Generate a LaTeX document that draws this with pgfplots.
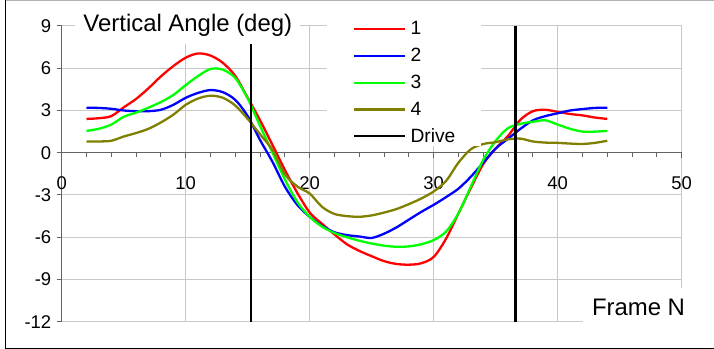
\documentclass[border=0pt]{standalone}
\usepackage{pgfplots}
\pgfplotsset{compat=1.18}
\usepackage{fontspec}
\setmainfont{Liberation Sans}

\definecolor{olivefour}{RGB}{128,128,0}
\definecolor{gridgray}{RGB}{200,200,200}
\definecolor{axisgray}{RGB}{100,100,100}

\begin{document}
\begin{tikzpicture}
\useasboundingbox (0bp,0bp) rectangle (714bp,349bp);
% chart area border
\draw[gray!60, line width=1bp] (5.3bp,348.5bp) -- (716bp,348.5bp);
\draw[black, line width=1.3bp] (5.3bp,349bp) -- (5.3bp,0.7bp) -- (716bp,0.7bp);

\begin{axis}[
  at={(61.7bp,27.3bp)}, anchor=south west,
  scale only axis, width=620bp, height=295.7bp,
  xmin=0, xmax=50, ymin=-12, ymax=9,
  axis x line=middle, axis y line=left,
  axis line style={-, axisgray, line width=1.3bp},
  xtick={0,10,...,50}, xticklabels={0,10,20,30,40,50},
  minor xtick={2,4,...,48},
  ytick={-12,-9,...,9}, yticklabels={-12,-9,-6,-3,0,3,6,9},
  hide obscured x ticks=false, hide obscured y ticks=false,
  grid=major, major grid style={gridgray, line width=1bp},
  tick style={axisgray, line width=1bp},
  major tick length=5bp, minor tick length=4bp,
  tick align=outside,
  ticklabel style={font=\fontsize{18.5}{20}\selectfont},
  xticklabel style={yshift=-15bp},
  yticklabel style={xshift=-2bp},
  title={Vertical Angle (deg)},
  title style={at={(0.0214,0.9619)}, anchor=base west, fill=white,
    inner xsep=8.3bp, inner ysep=7.7bp, font=\fontsize{24}{28}\selectfont},
  xlabel={Frame N},
  xlabel style={at={(0.84,0.0214)}, anchor=base west, fill=white,
    inner xsep=9.3bp, inner ysep=11.1bp, font=\fontsize{24}{28}\selectfont},
  legend style={at={(0.428,1.030)}, anchor=north west, draw=none, fill=white,
    inner xsep=25.7bp, inner ysep=4bp, row sep=13.2bp, column sep=4.7bp,
    font=\fontsize{19.3}{20}\selectfont,
    nodes={inner sep=0pt, text height=13.6bp, text depth=0bp}},
  legend cell align=left,
  legend image code/.code={\draw[#1] (0bp,-1bp) -- (50.6bp,-1bp);},
  every axis plot/.append style={line width=2.3bp},
]

\addplot[red, smooth] coordinates {
 (2,2.40)(3,2.45)(4,2.60)(5,3.22)(6,3.82)(7,4.58)(8,5.42)(9,6.15)(10,6.75)
 (11,7.05)(12,6.90)(13,6.38)(14,5.45)(15,3.90)(16,2.30)(17,0.55)(18,-1.23)
 (19,-2.85)(20,-4.25)(21,-5.05)(22,-5.80)(23,-6.50)(24,-6.97)(25,-7.35)
 (26,-7.70)(27,-7.90)(28,-7.95)(29,-7.85)(30,-7.40)(31,-6.10)(32,-4.30)
 (33,-2.50)(34,-0.80)(35,0.30)(36,1.20)(37,2.35)(38,2.95)(39,3.05)(40,2.90)
 (41,2.75)(42,2.65)(43,2.50)(44,2.40)};
\addlegendentry{1}

\addplot[blue, smooth] coordinates {
 (2,3.20)(3,3.18)(4,3.12)(5,3.00)(6,2.95)(7,2.95)(8,3.05)(9,3.40)(10,3.90)
 (11,4.25)(12,4.45)(13,4.30)(14,3.75)(15,2.60)(16,0.90)(17,-0.65)(18,-2.41)
 (19,-3.70)(20,-4.55)(21,-5.20)(22,-5.65)(23,-5.85)(24,-5.95)(25,-6.05)
 (26,-5.75)(27,-5.30)(28,-4.75)(29,-4.20)(30,-3.70)(31,-3.15)(32,-2.55)
 (33,-1.70)(34,-0.70)(35,0.30)(36,1.00)(37,1.70)(38,2.30)(39,2.60)(40,2.80)
 (41,3.00)(42,3.10)(43,3.18)(44,3.20)};
\addlegendentry{2}

\addplot[green, smooth] coordinates {
 (2,1.55)(3,1.70)(4,2.00)(5,2.55)(6,2.85)(7,3.20)(8,3.60)(9,4.10)(10,4.80)
 (11,5.45)(12,5.95)(13,5.90)(14,5.30)(15,3.85)(16,1.90)(17,0.00)(18,-1.90)
 (19,-3.50)(20,-4.55)(21,-5.25)(22,-5.70)(23,-6.00)(24,-6.25)(25,-6.45)
 (26,-6.60)(27,-6.68)(28,-6.65)(29,-6.50)(30,-6.20)(31,-5.60)(32,-4.30)
 (33,-2.40)(34,-0.50)(35,0.85)(36,1.75)(37,2.05)(38,2.20)(39,2.30)(40,2.00)
 (41,1.70)(42,1.50)(43,1.50)(44,1.55)};
\addlegendentry{3}

\addplot[olivefour, smooth] coordinates {
 (2,0.80)(3,0.80)(4,0.85)(5,1.15)(6,1.40)(7,1.70)(8,2.15)(9,2.70)(10,3.40)
 (11,3.85)(12,4.05)(13,3.90)(14,3.35)(15,2.40)(16,1.30)(17,0.20)(18,-1.53)
 (19,-2.40)(20,-2.90)(21,-3.85)(22,-4.35)(23,-4.50)(24,-4.55)(25,-4.45)
 (26,-4.25)(27,-4.00)(28,-3.65)(29,-3.25)(30,-2.75)(31,-2.00)(32,-0.70)
 (33,0.25)(34,0.62)(35,0.75)(36,0.95)(37,1.00)(38,0.80)(39,0.72)(40,0.70)
 (41,0.65)(42,0.62)(43,0.70)(44,0.85)};
\addlegendentry{4}

% drive instants
\addplot[black] coordinates {(15.27,-12) (15.27,9)};
\addlegendentry{Drive}
\addplot[black, forget plot] coordinates {(36.6,-12) (36.6,9)};
\end{axis}
\end{tikzpicture}
\end{document}
